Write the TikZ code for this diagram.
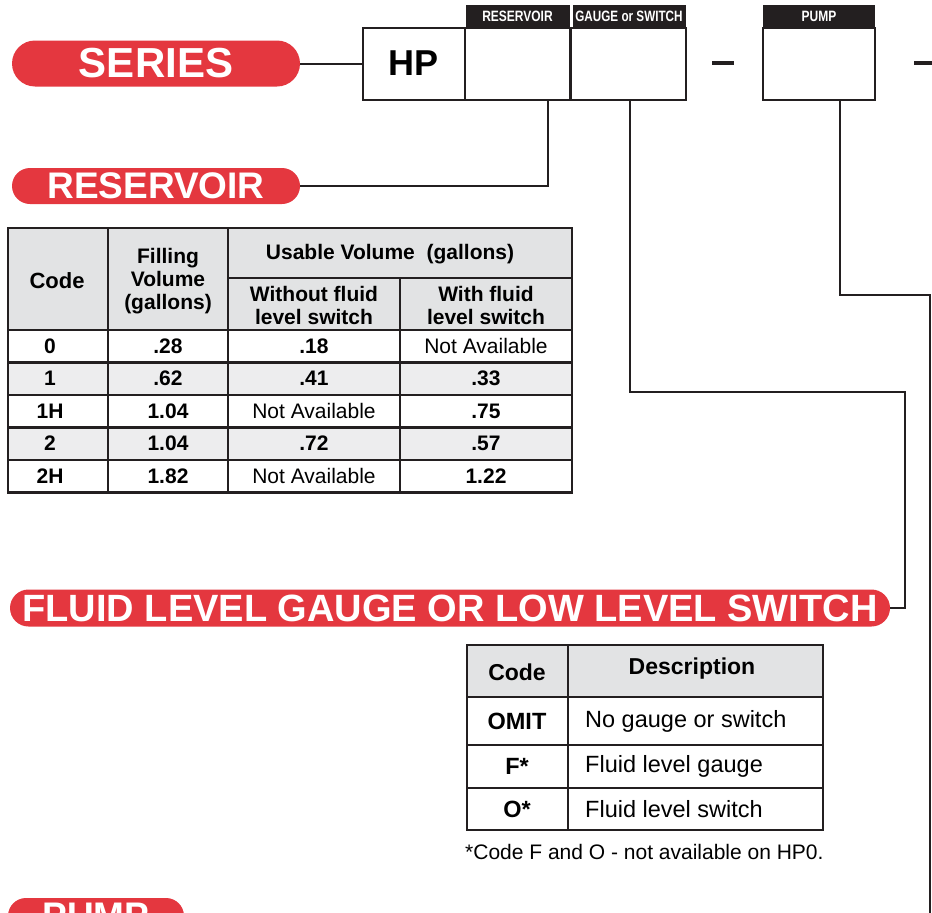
\documentclass[tikz,border=0pt]{standalone}
\usepackage{fontspec}
\setmainfont{Liberation Sans}
\usetikzlibrary{positioning,calc}
\definecolor{pillred}{HTML}{E4373F}
\definecolor{ink}{HTML}{231F20}
\definecolor{headgray}{HTML}{E2E3E4}
\definecolor{rowgray}{HTML}{EDEDEE}
\newcommand{\fsz}[1]{\fontsize{#1}{#1}\selectfont}
\newcommand{\notavail}{{\mdseries Not Available}}
\tikzset{
  pill/.style={rectangle,fill=pillred,text=white,inner sep=0pt,font=\bfseries},
  codebox/.style={draw=ink,line width=2pt,fill=white,minimum height=72pt,inner sep=0pt},
  codehead/.style={fill=ink,text=white,minimum height=22pt,inner sep=0pt,
    font=\fsz{15}\bfseries},
  dashbar/.style={fill=ink,minimum height=4pt,minimum width=22pt,inner sep=0pt},
  link/.style={draw=ink,line width=2pt},
  grid/.style={draw=ink,line width=2.6pt},
  cell/.style={font=\fontsize{21}{23}\selectfont\bfseries,align=center,inner sep=0pt},
  desc/.style={font=\fsz{23.5},anchor=west,inner sep=0pt},
}
\begin{document}
\begin{tikzpicture}[x=1pt,y=-1pt]
\useasboundingbox (0,0) rectangle (932,913);
\clip (0,0) rectangle (932,913);
% model code boxes
\node[pill,minimum width=288pt,minimum height=46pt,rounded corners=23pt] (series) at (156,63.5) {\fsz{42}SERIES};
\node[codebox,minimum width=102pt,font=\fsz{36}\bfseries] (hp) at (414,63.5) {HP};
\node[codebox,minimum width=105pt] (res) at (517.5,63.5) {};
\node[codebox,minimum width=115pt] (gauge) at (628.5,63.5) {};
\node[codebox,minimum width=112pt] (pump) at (819,63.5) {};
\node[codehead,minimum width=104pt] (reshead) at (517.5,16) {\scalebox{0.8}[1]{RESERVOIR}};
\node[codehead,minimum width=113pt] (gaugehead) at (629,16) {\scalebox{0.78}[1]{GAUGE or SWITCH}};
\node[codehead,minimum width=112pt] (pumphead) at (819,16) {\scalebox{0.8}[1]{PUMP}};
\node[dashbar] (dashA) at (723,63) {};
\node[dashbar] (dashB) at (925,63) {};
\draw[link] (series.east) -- (hp.west);
% section headings
\node[pill,minimum width=288pt,minimum height=36pt,rounded corners=18pt] (respill) at (156,186) {\fsz{37}RESERVOIR};
\node[pill,minimum width=880pt,minimum height=37pt,rounded corners=18.5pt] (fluid) at (450,608) {\fsz{38}FLUID LEVEL GAUGE OR LOW LEVEL SWITCH};
\node[pill,minimum width=176pt,minimum height=36pt,rounded corners=18pt] (pumppill) at (96,916) {\fsz{37}PUMP};
\coordinate (gbend) at (905,392);
\coordinate (pbend) at (930,295);
\coordinate (pend) at (930,913);
\draw[link] ($(res.south)+(30.5,0)$) |- (respill.east);
\draw[link] ($(gauge.south)+(1.5,0)$) |- (gbend) |- (fluid.east);
\draw[link] ($(pump.south)+(21,0)$) |- (pbend) -- (pend);
% reservoir table
\fill[headgray] (8,228) rectangle (572,330);
\fill[rowgray] (8,362.5) rectangle (572,395);
\fill[rowgray] (8,427.5) rectangle (572,460);
\foreach \yy in {330,362.5,395,427.5,460} \draw[grid] (8,\yy) -- (572,\yy);
\foreach \xx in {108,228} \draw[grid] (\xx,228) -- (\xx,492.5);
\draw[grid] (400,278) -- (400,492.5);
\draw[grid] (228,278) -- (572,278);
\draw[grid] (8,228) rectangle (572,492.5);
\node[cell,font=\fsz{22}\bfseries] (hcode) at (57,281) {Code};
\node[cell] (hfill) at (168,281) {Filling\\Volume\\(gallons)};
\node[cell] (husable) at (390,254) {Usable Volume\ \ (gallons)};
\node[cell] (hwout) at (314,305) {Without fluid\\level switch};
\node[cell] (hwith) at (486,305) {With fluid\\level switch};
\foreach \code/\fv/\wout/\wfl [count=\i from 0] in
  {0/.28/.18/\notavail, 1/.62/.41/.33, 1H/1.04/\notavail/.75,
   2/1.04/.72/.57, 2H/1.82/\notavail/1.22}{
  \pgfmathsetmacro{\yy}{346+32.5*\i}
  \node[cell] (code\i) at (50,\yy) {\code};
  \node[cell] (fv\i) at (168,\yy) {\fv};
  \node[cell] (wout\i) at (314,\yy) {\wout};
  \node[cell] (wfl\i) at (486,\yy) {\wfl};
}
% gauge table
\fill[headgray] (467,645) rectangle (823,697);
\foreach \yy in {697,745,788} \draw[grid] (467,\yy) -- (823,\yy);
\draw[grid] (568,645) -- (568,830);
\draw[grid] (467,645) rectangle (823,830);
\node[cell,font=\fsz{23}\bfseries] (gcode) at (517,672) {Code};
\node[cell,font=\fsz{23}\bfseries] (gdesc) at (692,669) {Description};
\foreach \code/\text/\yy [count=\i] in
  {OMIT/No gauge or switch/721, F*/Fluid level gauge/766.5, O*/Fluid level switch/809}{
  \node[cell,font=\fsz{23.5}\bfseries] (opt\i) at (517,\yy) {\code};
  \node[desc] (optdesc\i) at (585,\yy) {\text};
}
\node[font=\fsz{21},anchor=west,inner sep=0pt] (note) at (465,852) {*Code F and O - not available on HP0.};
\end{tikzpicture}
\end{document}
